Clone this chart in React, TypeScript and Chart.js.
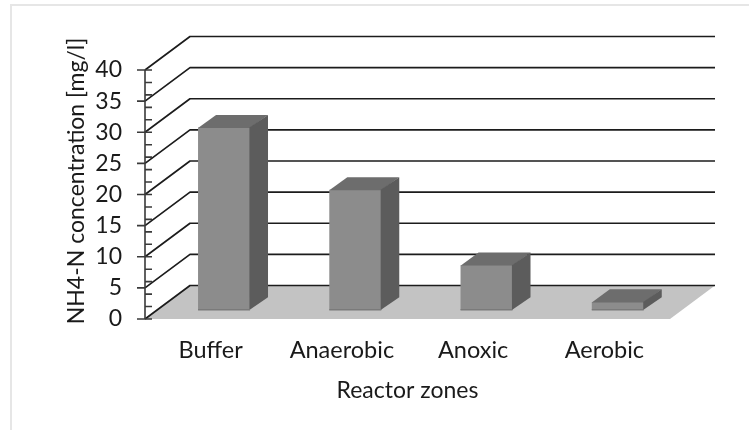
import React, { useEffect, useRef } from "react";
import { Chart, registerables } from "chart.js";

Chart.register(...registerables);

const categories = ["Buffer", "Anaerobic", "Anoxic", "Aerobic"];
const concentration = [29.3, 19.3, 7.2, 1.3];
const yTitle = "NH4-N concentration [mg/l]";
const xTitle = "Reactor zones";

const FONT = "Lato, Carlito, sans-serif";
const DEPTH_X = 45;
const DEPTH_Y = 33.5;
const BAR_SHIFT_X = 13.4;
const BAR_SHIFT_Y = -9;
const BAR_DX = 18;
const BAR_DY = 12.7;

const poly = (ctx: CanvasRenderingContext2D, pts: number[][], fill: string) => {
  ctx.beginPath();
  pts.forEach((p, i) => (i ? ctx.lineTo(p[0], p[1]) : ctx.moveTo(p[0], p[1])));
  ctx.closePath();
  ctx.fillStyle = fill;
  ctx.fill();
};

const scene3d = {
  id: "scene3d",
  beforeDraw(chart: any) {
    const { ctx, width, height, chartArea: a, scales } = chart;
    // centre the y title where the reference has it
    scales.y.top = a.top - 27;
    ctx.save();
    ctx.strokeStyle = "#e6e6e6";
    ctx.lineWidth = 2;
    ctx.beginPath();
    ctx.moveTo(11, height);
    ctx.lineTo(11, 5);
    ctx.lineTo(width, 5);
    ctx.stroke();
    ctx.restore();
  },
  beforeDatasetsDraw(chart: any) {
    const { ctx, chartArea: a, scales } = chart;
    const y = scales.y;
    const y0 = y.getPixelForValue(0);
    ctx.save();
    poly(
      ctx,
      [
        [a.left, y0],
        [a.left + DEPTH_X, y0 - DEPTH_Y],
        [a.right + DEPTH_X, y0 - DEPTH_Y],
        [a.right, y0],
      ],
      "#c3c3c3"
    );
    ctx.strokeStyle = "#1c1c1c";
    ctx.lineWidth = 1.7;
    ctx.lineJoin = "round";
    for (const t of y.ticks) {
      const p = y.getPixelForValue(t.value);
      ctx.beginPath();
      ctx.moveTo(a.left, p);
      ctx.lineTo(a.left + DEPTH_X, p - DEPTH_Y);
      ctx.lineTo(a.right + DEPTH_X, p - DEPTH_Y);
      ctx.stroke();
    }
    ctx.strokeStyle = "#3a3a3a";
    ctx.lineWidth = 1.6;
    ctx.beginPath();
    ctx.moveTo(a.left, y.getPixelForValue(40));
    ctx.lineTo(a.left, y0);
    for (let v = 0; v <= 40; v += 2) {
      const p = y.getPixelForValue(v);
      ctx.moveTo(a.left, p);
      ctx.lineTo(a.left + 7, p);
    }
    for (const t of y.ticks) {
      const p = y.getPixelForValue(t.value);
      ctx.moveTo(a.left - 8, p);
      ctx.lineTo(a.left, p);
    }
    ctx.stroke();
    ctx.restore();
    ctx.save();
    ctx.translate(BAR_SHIFT_X, BAR_SHIFT_Y);
  },
  afterDatasetsDraw(chart: any) {
    const { ctx } = chart;
    const meta = chart.getDatasetMeta(0);
    for (const bar of meta.data) {
      const l = bar.x - bar.width / 2;
      const r = bar.x + bar.width / 2;
      const t = bar.y;
      const b = bar.base;
      poly(
        ctx,
        [
          [l, t + 0.5],
          [l + BAR_DX, t - BAR_DY],
          [r + BAR_DX, t - BAR_DY],
          [r, t + 0.5],
        ],
        "#6d6d6d"
      );
      poly(
        ctx,
        [
          [r - 0.6, t],
          [r + BAR_DX, t - BAR_DY],
          [r + BAR_DX, b - BAR_DY],
          [r - 0.6, b],
        ],
        "#5c5c5c"
      );
      ctx.fillStyle = "#7a7a7a";
      ctx.fillRect(l, b - 1, r - l, 1.5);
    }
    ctx.restore();
  },
};

export default function App() {
  const ref = useRef<HTMLCanvasElement>(null);
  useEffect(() => {
    const chart = new Chart(ref.current!, {
      type: "bar",
      data: {
        labels: categories,
        datasets: [
          {
            data: concentration,
            backgroundColor: "#8c8c8c",
            borderWidth: 0,
            barPercentage: 0.396,
            categoryPercentage: 1,
            clip: false as any,
          },
        ],
      },
      options: {
        animation: false,
        responsive: false,
        layout: { padding: { top: 70, right: 79, left: 0, bottom: 0 } },
        plugins: { legend: { display: false }, tooltip: { enabled: false } },
        scales: {
          x: {
            grid: { display: false },
            border: { display: false },
            ticks: {
              color: "#1a1a1a",
              font: { family: FONT, size: 23.5 },
              padding: 9,
              maxRotation: 0,
              autoSkip: false,
            },
            title: {
              display: true,
              text: xTitle,
              color: "#1a1a1a",
              font: { family: FONT, size: 23 },
              padding: { top: 0, bottom: 26 },
            },
            afterFit: (s: any) => {
              s.height = 111;
            },
          },
          y: {
            min: 0,
            max: 40,
            grid: { display: false },
            border: { display: false },
            ticks: {
              stepSize: 5,
              color: "#1a1a1a",
              font: { family: FONT, size: 23 },
              padding: 15,
            },
            title: {
              display: true,
              text: yTitle,
              color: "#1a1a1a",
              font: { family: FONT, size: 23 },
              padding: { top: 63, bottom: 0 },
            },
            afterFit: (s: any) => {
              s.width = 145;
            },
          },
        },
      },
      plugins: [scene3d],
    });
    return () => chart.destroy();
  }, []);
  return (
    <div style={{ position: "fixed", left: 0, top: 0, width: 749, height: 430, background: "#fff" }}>
      <canvas ref={ref} width={749} height={430} style={{ display: "block", filter: "blur(0.4px)" }} />
    </div>
  );
}
